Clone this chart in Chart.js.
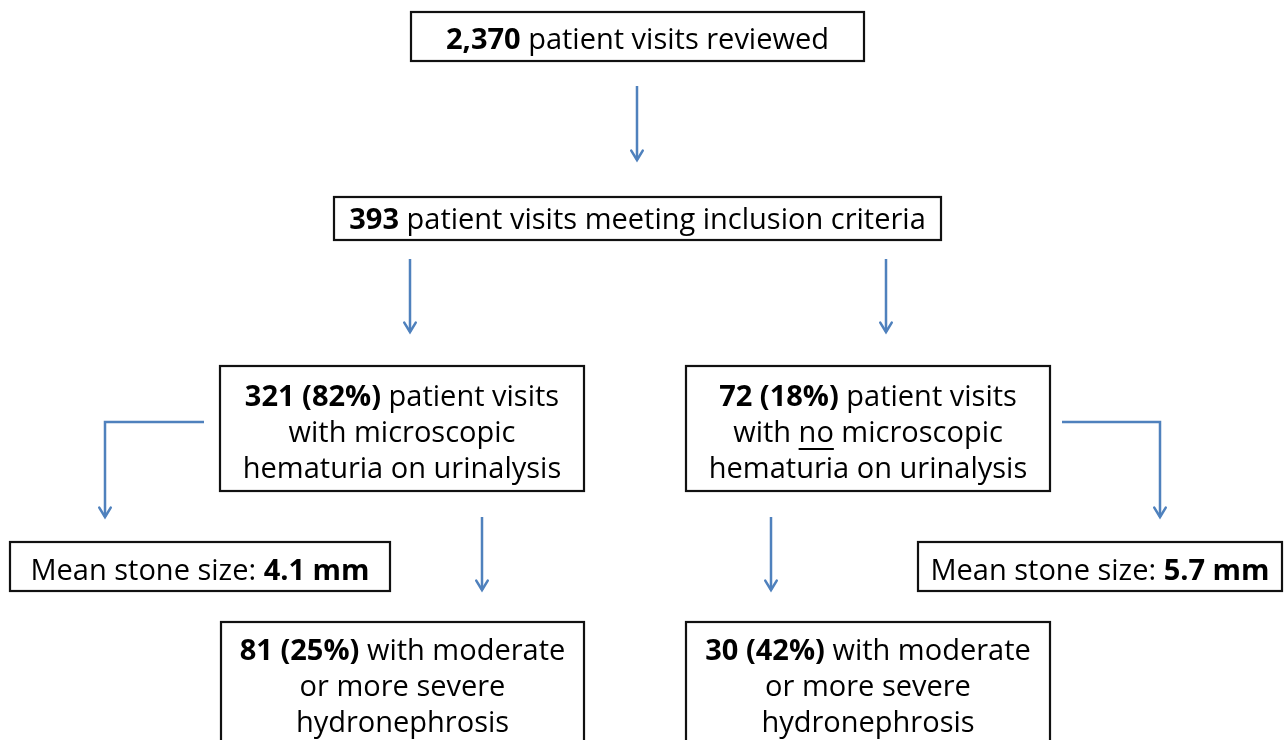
<!DOCTYPE html>
<html>
<head>
<meta charset="utf-8">
<script src="https://cdn.jsdelivr.net/npm/chart.js@4.4.1/dist/chart.umd.min.js"></script>
<style>
  html, body { margin: 0; padding: 0; background: #fff; }
  #wrap { width: 1284px; height: 740px; position: relative; }
</style>
</head>
<body>
<div id="wrap"><canvas id="flow"></canvas></div>
<script>
// Flow numbers
const totalVisits = 2370;
const includedVisits = 393;
const groupCounts = [321, 72];
const groupPercents = [82, 18];
const hydroCounts = [81, 30];
const hydroPercents = [25, 42];
const stoneSizes = [4.1, 5.7];

// Layout in canvas units (x 0..1284, y 0..740 from top)
const boxes = [
  { x1: 411, y1: 12, x2: 864, y2: 61, lines: [[[totalVisits.toLocaleString('en-US'), true], [' patient visits reviewed', false]]], top: 41 },
  { x1: 334, y1: 197, x2: 941, y2: 240, lines: [[[String(includedVisits), true], [' patient visits meeting inclusion criteria', false]]], top: 221 },
  { x1: 220, y1: 366, x2: 584, y2: 491, lines: [
      [[groupCounts[0] + ' (' + groupPercents[0] + '%)', true], [' patient visits', false]],
      [['with microscopic', false]],
      [['hematuria on urinalysis', false]]], top: 398 },
  { x1: 686, y1: 366, x2: 1050, y2: 491, lines: [
      [[groupCounts[1] + ' (' + groupPercents[1] + '%)', true], [' patient visits', false]],
      [['with ', false], ['no', false, true], [' microscopic', false]],
      [['hematuria on urinalysis', false]]], top: 398 },
  { x1: 10, y1: 542, x2: 390, y2: 591, lines: [[['Mean stone size: ', false], [stoneSizes[0] + ' mm', true]]], top: 572 },
  { x1: 918, y1: 542, x2: 1282, y2: 591, lines: [[['Mean stone size: ', false], [stoneSizes[1] + ' mm', true]]], top: 572 },
  { x1: 221, y1: 622, x2: 584, y2: 760, lines: [
      [[hydroCounts[0] + ' (' + hydroPercents[0] + '%)', true], [' with moderate', false]],
      [['or more severe', false]],
      [['hydronephrosis', false]]], top: 652 },
  { x1: 686, y1: 622, x2: 1050, y2: 760, lines: [
      [[hydroCounts[1] + ' (' + hydroPercents[1] + '%)', true], [' with moderate', false]],
      [['or more severe', false]],
      [['hydronephrosis', false]]], top: 652 }
];

// Arrow paths (last point gets the head)
const arrows = [
  [[637, 86], [637, 160]],
  [[410, 259], [410, 332]],
  [[886, 259], [886, 332]],
  [[204, 422], [105, 422], [105, 517]],
  [[1062, 422], [1160, 422], [1160, 517]],
  [[482, 517], [482, 590]],
  [[771, 517], [771, 590]]
];

const arrowColor = '#4f81bd';
const fontFamily = '"Open Sans", "Liberation Sans", sans-serif';
const fontSize = 29;
const lineGap = 36;

const flowPlugin = {
  id: 'flowPlugin',
  afterDatasetsDraw(chart) {
    const ctx = chart.ctx;
    const xs = chart.scales.x, ys = chart.scales.y;
    ctx.save();
    // arrowheads
    chart.data.datasets.forEach(ds => {
      const pts = ds.data;
      const a = pts[pts.length - 2], b = pts[pts.length - 1];
      const bx = xs.getPixelForValue(b.x), by = ys.getPixelForValue(b.y);
      const ax = xs.getPixelForValue(a.x), ay = ys.getPixelForValue(a.y);
      const ang = Math.atan2(by - ay, bx - ax);
      ctx.strokeStyle = arrowColor;
      ctx.lineWidth = 2.5;
      ctx.lineCap = 'round';
      ctx.beginPath();
      ctx.moveTo(bx - 11 * Math.cos(ang - 0.55), by - 11 * Math.sin(ang - 0.55));
      ctx.lineTo(bx, by);
      ctx.lineTo(bx - 11 * Math.cos(ang + 0.55), by - 11 * Math.sin(ang + 0.55));
      ctx.stroke();
    });
    // boxes
    boxes.forEach(b => {
      const x1 = xs.getPixelForValue(b.x1), x2 = xs.getPixelForValue(b.x2);
      const y1 = ys.getPixelForValue(b.y1), y2 = ys.getPixelForValue(b.y2);
      ctx.fillStyle = '#fff';
      ctx.fillRect(x1, y1, x2 - x1, y2 - y1);
      ctx.strokeStyle = '#111';
      ctx.lineWidth = 2.2;
      ctx.strokeRect(x1, y1, x2 - x1, y2 - y1);
      const cx = (x1 + x2) / 2;
      ctx.fillStyle = '#000';
      ctx.textBaseline = 'middle';
      b.lines.forEach((segs, i) => {
        const y = ys.getPixelForValue(b.top + i * lineGap);
        let w = 0;
        segs.forEach(s => {
          ctx.font = (s[1] ? 'bold ' : '') + fontSize + 'px ' + fontFamily;
          w += ctx.measureText(s[0]).width;
        });
        let x = cx - w / 2;
        ctx.textAlign = 'left';
        segs.forEach(s => {
          ctx.font = (s[1] ? 'bold ' : '') + fontSize + 'px ' + fontFamily;
          const sw = ctx.measureText(s[0]).width;
          ctx.fillText(s[0], x, y);
          if (s[2]) {
            ctx.fillRect(x, y + 14, sw, 2);
          }
          x += sw;
        });
      });
    });
    ctx.restore();
  }
};

new Chart(document.getElementById('flow'), {
  type: 'scatter',
  data: {
    datasets: arrows.map(path => ({
      data: path.map(p => ({ x: p[0], y: p[1] })),
      showLine: true,
      borderColor: arrowColor,
      borderWidth: 2.5,
      pointRadius: 0,
      fill: false,
      tension: 0
    }))
  },
  options: {
    responsive: true,
    maintainAspectRatio: false,
    animation: false,
    layout: { padding: 0 },
    plugins: { legend: { display: false }, tooltip: { enabled: false } },
    scales: {
      x: { type: 'linear', min: 0, max: 1284, display: false },
      y: { type: 'linear', min: 0, max: 740, reverse: true, display: false }
    }
  },
  plugins: [flowPlugin]
});
</script>
</body>
</html>
